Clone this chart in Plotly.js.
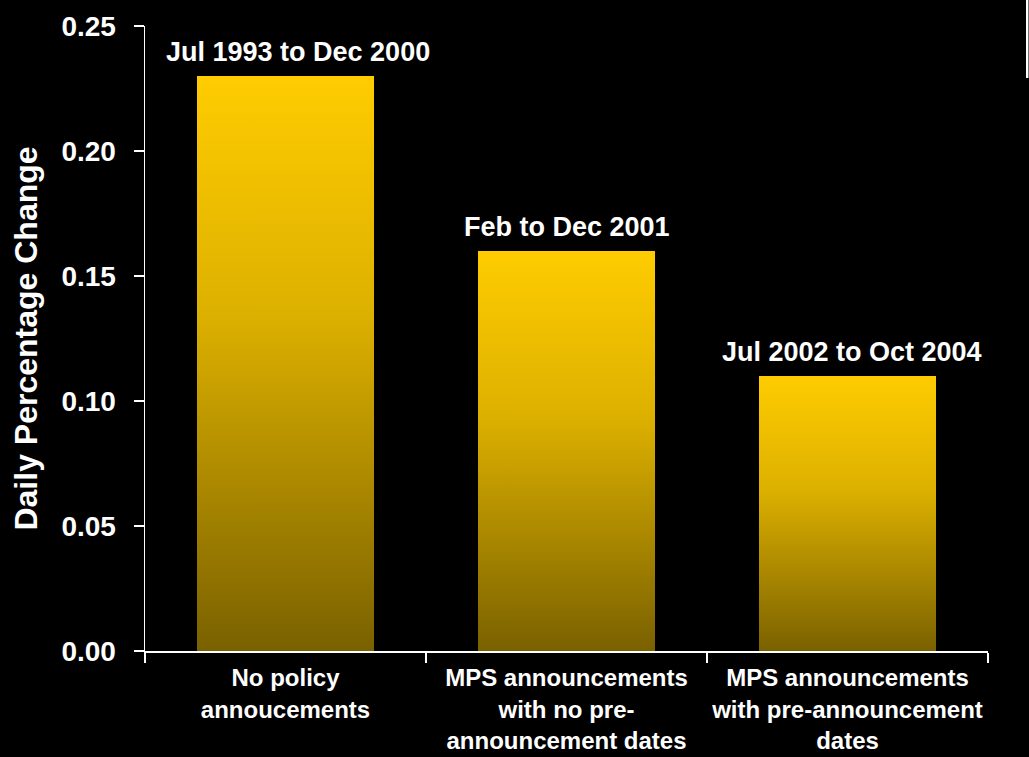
<!DOCTYPE html>
<html>
<head>
<meta charset="utf-8">
<script src="https://cdn.plot.ly/plotly-3.0.1.min.js"></script>
<style>
  html, body { margin: 0; padding: 0; background: #000; }
  #chart { width: 1029px; height: 757px; }
</style>
</head>
<body>
<div id="chart"></div>
<script>
const categories = [
  "No policy<br>annoucements",
  "MPS announcements<br>with no pre-<br>announcement dates",
  "MPS announcements<br>with pre-announcement<br>dates"
];
const values = [0.23, 0.16, 0.11];
const periodLabels = ["Jul 1993 to Dec 2000", "Feb to Dec 2001", "Jul 2002 to Oct 2004"];
const yTitle = "Daily Percentage Change";

const FONT = "Liberation Sans, Arial, sans-serif";

const trace = {
  type: "bar",
  x: categories,
  y: values,
  marker: { color: "#E0B400", line: { width: 0 } },
  hoverinfo: "none"
};

const annShift = [12, 0, 4];
const annotations = periodLabels.map((t, i) => ({
  x: categories[i],
  y: values[i],
  xref: "x",
  yref: "y",
  text: "<b>" + t + "</b>",
  showarrow: false,
  yanchor: "bottom",
  xanchor: "center",
  xshift: annShift[i],
  yshift: 7,
  font: { family: FONT, size: 27, color: "#ffffff" }
}));

const layout = {
  width: 1029,
  height: 757,
  paper_bgcolor: "#000000",
  plot_bgcolor: "#000000",
  margin: { l: 145, r: 41, t: 26, b: 106 },
  bargap: 0.37,
  showlegend: false,
  font: { family: FONT, color: "#ffffff" },
  xaxis: {
    type: "category",
    showline: true,
    linecolor: "#ffffff",
    linewidth: 1.5,
    ticks: "outside",
    tickson: "boundaries",
    ticklen: 10,
    tickwidth: 1.5,
    tickcolor: "#ffffff",
    showgrid: false,
    zeroline: false,
    tickangle: 0,
    automargin: false,
    ticklabelstandoff: 5,
    tickfont: { family: FONT, size: 24, color: "#ffffff", weight: "bold" }
  },
  yaxis: {
    range: [0, 0.25],
    dtick: 0.05,
    tick0: 0,
    tickformat: ".2f",
    showline: true,
    linecolor: "#ffffff",
    linewidth: 1.5,
    ticks: "outside",
    ticklen: 10,
    tickwidth: 1.5,
    tickcolor: "#ffffff",
    showgrid: false,
    zeroline: false,
    automargin: false,
    ticklabelstandoff: 12,
    tickfont: { family: FONT, size: 28, color: "#ffffff", weight: "bold" },
    title: {
      text: "<b>" + yTitle + "</b>",
      font: { family: FONT, size: 32, color: "#ffffff" },
      standoff: 14
    }
  },
  annotations: annotations,
  shapes: [{
    type: "rect",
    xref: "paper", yref: "paper",
    x0: 1.0451, x1: 1.048,
    y0: 0.9168, y1: 1.05,
    fillcolor: "#ffffff",
    line: { width: 0 }
  }]
};

Plotly.newPlot("chart", [trace], layout, { displayModeBar: false, staticPlot: true }).then(gd => {
  const svg = gd.querySelector("svg.main-svg");
  const NS = "http://www.w3.org/2000/svg";
  let defs = svg.querySelector("defs");
  if (!defs) { defs = document.createElementNS(NS, "defs"); svg.insertBefore(defs, svg.firstChild); }
  const grad = document.createElementNS(NS, "linearGradient");
  grad.setAttribute("id", "barGrad");
  grad.setAttribute("x1", "0"); grad.setAttribute("y1", "0");
  grad.setAttribute("x2", "0"); grad.setAttribute("y2", "1");
  [["0", "#FFCC00"], ["0.42", "#DCB000"], ["1", "#7A6100"]].forEach(([o, c]) => {
    const s = document.createElementNS(NS, "stop");
    s.setAttribute("offset", o);
    s.setAttribute("stop-color", c);
    grad.appendChild(s);
  });
  defs.appendChild(grad);
  gd.querySelectorAll(".bars .point path").forEach(p => {
    p.style.fill = "url(#barGrad)";
  });
});
</script>
</body>
</html>
